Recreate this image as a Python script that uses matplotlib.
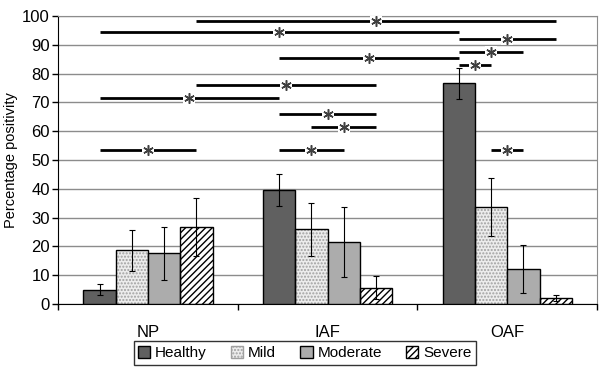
import numpy as np
import matplotlib
matplotlib.use("Agg")
import matplotlib.pyplot as plt

plt.rcParams['font.family'] = ['Liberation Sans', 'DejaVu Sans']
plt.rcParams['hatch.linewidth'] = 1.0

groups = ['NP', 'IAF', 'OAF']
series = ['Healthy', 'Mild', 'Moderate', 'Severe']
values = {
    'Healthy': [4.9, 39.7, 76.7],
    'Mild': [18.6, 26.0, 33.6],
    'Moderate': [17.6, 21.4, 12.0],
    'Severe': [26.6, 5.7, 2.0],
}
err_low = {
    'Healthy': [3.0, 33.9, 71.2],
    'Mild': [11.6, 16.8, 23.5],
    'Moderate': [8.4, 9.3, 3.7],
    'Severe': [16.8, 1.6, 1.0],
}
err_high = {
    'Healthy': [6.9, 45.1, 81.8],
    'Mild': [25.6, 35.0, 43.7],
    'Moderate': [26.6, 33.6, 20.6],
    'Severe': [36.7, 9.8, 3.1],
}
# significance brackets: (group, series) -> (group, series), height
sig_pairs = [
    (('NP', 'Severe'), ('OAF', 'Severe'), 98.2),
    (('NP', 'Healthy'), ('OAF', 'Healthy'), 94.3),
    (('OAF', 'Healthy'), ('OAF', 'Severe'), 92.0),
    (('OAF', 'Healthy'), ('OAF', 'Moderate'), 87.4),
    (('IAF', 'Healthy'), ('OAF', 'Healthy'), 85.3),
    (('OAF', 'Healthy'), ('OAF', 'Mild'), 83.0),
    (('NP', 'Severe'), ('IAF', 'Severe'), 76.0),
    (('NP', 'Healthy'), ('IAF', 'Healthy'), 71.4),
    (('IAF', 'Healthy'), ('IAF', 'Severe'), 66.0),
    (('IAF', 'Mild'), ('IAF', 'Severe'), 61.3),
    (('NP', 'Healthy'), ('NP', 'Severe'), 53.5),
    (('IAF', 'Healthy'), ('IAF', 'Moderate'), 53.5),
    (('OAF', 'Mild'), ('OAF', 'Moderate'), 53.5),
]

styles = {
    'Healthy': dict(color='#606060', hatch=None, hcolor=None),
    'Mild': dict(color='#ececec', hatch='.....', hcolor='#a0a0a0'),
    'Moderate': dict(color='#acacac', hatch=None, hcolor=None),
    'Severe': dict(color='white', hatch='/////', hcolor='black'),
}

fig = plt.figure(figsize=(6.0, 3.68), dpi=100)
ax = fig.add_axes([0.097, 0.174, 0.898, 0.7825])

x = np.arange(len(groups))
width = 0.18
offsets = {s: (i - 1.5) * width for i, s in enumerate(series)}

ax.set_axisbelow(True)
ax.yaxis.grid(True, color='#8c8c8c', linewidth=1.0)

for s in series:
    st = styles[s]
    pos = x + offsets[s]
    if st['hatch']:
        ax.bar(pos, values[s], width, color=st['color'], hatch=st['hatch'],
               edgecolor=st['hcolor'], linewidth=0, zorder=2)
        ax.bar(pos, values[s], width, fill=False, edgecolor='black',
               linewidth=1.0, zorder=3)
        # legend proxy with the same look
        ax.bar([np.nan], [np.nan], width, color=st['color'], hatch=st['hatch'],
               edgecolor=st['hcolor'], linewidth=1.0, label=s)
    else:
        ax.bar(pos, values[s], width, color=st['color'], edgecolor='black',
               linewidth=1.0, zorder=3, label=s)
    v = np.array(values[s])
    yerr = [v - np.array(err_low[s]), np.array(err_high[s]) - v]
    ax.errorbar(pos, v, yerr=yerr, fmt='none', ecolor='black',
                elinewidth=0.8, capsize=2.5, capthick=0.8, zorder=4)

gi = {g: i for i, g in enumerate(groups)}
for (g1, s1), (g2, s2), h in sig_pairs:
    x1 = gi[g1] + offsets[s1]
    x2 = gi[g2] + offsets[s2]
    xm = (x1 + x2) / 2
    ax.plot([x1, x2], [h, h], color='black', linewidth=2.0, zorder=5,
            solid_capstyle='butt')
    ax.plot([xm], [h], marker='s', markersize=9, color='white',
            markeredgewidth=0, zorder=6)
    ax.plot([xm], [h], marker=(6, 2, 0), markersize=7.5, color='#404040',
            markeredgewidth=1.1, zorder=7)

ax.set_xlim(-0.5, 2.5)
ax.set_ylim(0, 100)
ax.set_yticks(np.arange(0, 101, 10))
ax.tick_params(axis='y', direction='out', length=4, width=1, labelsize=12, pad=2)

ax.set_xticks([-0.5, 0.5, 1.5, 2.5])
ax.set_xticklabels([])
ax.tick_params(axis='x', which='major', direction='out', length=4, width=1)
ax.set_xticks(x, minor=True)
ax.set_xticklabels(groups, minor=True)
ax.tick_params(axis='x', which='minor', length=0, labelsize=12, pad=15)

ax.set_ylabel('Percentage positivity', fontsize=10.5, labelpad=3)

for side in ['top', 'right']:
    ax.spines[side].set_color('#8c8c8c')
ax.spines['left'].set_color('black')
ax.spines['bottom'].set_color('black')

leg = fig.legend(loc='center', bbox_to_anchor=(0.508, 0.041), ncol=4,
                 frameon=True, fancybox=False, edgecolor='black', fontsize=11,
                 handlelength=0.8, handleheight=0.8, handletextpad=0.3,
                 columnspacing=1.6, borderpad=0.3)
leg.get_frame().set_linewidth(1.0)

fig.savefig('out.png', dpi=100)
